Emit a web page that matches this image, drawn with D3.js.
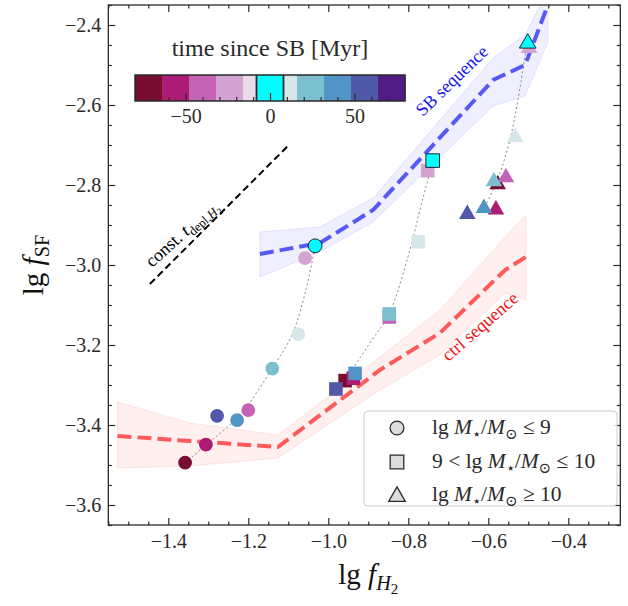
<!DOCTYPE html>
<html><head><meta charset="utf-8">
<script src="https://cdn.jsdelivr.net/npm/d3@7"></script>
<style>
body{margin:0;background:#fff;}
svg{font-family:"Liberation Serif","DejaVu Serif",serif;}
</style></head><body>
<svg id="chart" width="628" height="606"></svg>
<script>
// ---- axis ticks ----
const xTicks = [-1.4, -1.2, -1.0, -0.8, -0.6, -0.4];
const yTicks = [-3.6, -3.4, -3.2, -3.0, -2.8, -2.6, -2.4];

// ---- colour bins: time since starburst [Myr] ----
const timeEdges = [-80, -64, -48, -32, -16, -8, 8, 16, 32, 48, 64, 80];
const timeColors = ['#770d30', '#ac1c74', '#c463b4', '#d3a3d1', '#e9dbea', '#00ffff',
                    '#d5e7e9', '#7cc0d0', '#5294c6', '#4f58a9', '#511c84'];
const cbarTicks = [-50, 0, 50];

// ---- SB sequence (median + scatter band) ----
const sbFH2  = [-1.171, -1.021, -0.888, -0.588, -0.508, -0.451];
const sbFSF  = [-2.9725, -2.945, -2.8625, -2.5375, -2.500, -2.350];
const sbLow  = [-3.030, -2.9675, -2.8925, -2.6025, -2.5775, -2.4425];
const sbHigh = [-2.9175, -2.905, -2.8325, -2.4825, -2.425, -2.3125];

// ---- control sequence ----
const ctrlFH2  = [-1.527, -1.346, -1.126, -0.871, -0.721, -0.558, -0.506];
const ctrlFSF  = [-3.4275, -3.440, -3.455, -3.2625, -3.170, -3.0125, -2.980];
const ctrlLow  = [-3.5075, -3.5025, -3.4825, -3.3125, -3.225, -3.070, -3.0875];
const ctrlHigh = [-3.3425, -3.395, -3.425, -3.230, -3.1125, -2.930, -2.875];

// ---- snapshots, binned by stellar mass ----
const snapTime = [-72, -56, -40, -24, 0, 12, 24, 40, 56];
const circleFH2 = [-1.358, -1.306, -1.200, -1.058, -1.033, -1.075, -1.140, -1.228, -1.278];
const circleFSF = [-3.494, -3.449, -3.363, -2.983, -2.952, -3.173, -3.259, -3.388, -3.377];
const squareFH2 = [-0.958, -0.9375, -0.8475, -0.7515, -0.739, -0.775, -0.8475, -0.933, -0.981];
const squareFSF = [-3.289, -3.283, -3.130, -2.764, -2.739, -2.942, -3.1225, -3.271, -3.310];
const triFH2 = [-0.5765, -0.581, -0.556, -0.498, -0.5015, -0.533, -0.586, -0.611, -0.6525];
const triFSF = [-2.795, -2.858, -2.7775, -2.454, -2.442, -2.677, -2.7875, -2.854, -2.869];

// ---- evolutionary tracks (dotted guides) ----
const circleTrackFH2 = [-1.358, -1.306, -1.221, -1.146, -1.091, -1.056, -1.033];
const circleTrackFSF = [-3.495, -3.450, -3.375, -3.2675, -3.175, -3.0625, -2.9525];
const squareTrackFH2 = [-0.946, -0.891, -0.848, -0.796, -0.771, -0.738];
const squareTrackFSF = [-3.270, -3.1875, -3.1225, -2.9625, -2.8625, -2.7375];
const triTrackFH2 = [-0.603, -0.571, -0.546, -0.526, -0.503];
const triTrackFSF = [-2.845, -2.770, -2.6875, -2.5875, -2.445];

// ---- constant depletion time reference line ----
const deplFH2 = [-1.446, -1.096];
const deplFSF = [-3.0475, -2.6975];

// ---- legend ----
const legendShapes = ['circle', 'square', 'triangle'];

// ===================================================================
const svg = d3.select('#chart');
const X0 = 108.3, X1 = 620.3, Y0 = 5, Y1 = 525;
const x = d3.scaleLinear().domain([-1.55, -0.27]).range([X0, X1]);
const y = d3.scaleLinear().domain([-3.65, -2.35]).range([Y1, Y0]);
const color = d3.scaleThreshold().domain(timeEdges.slice(1, -1)).range(timeColors);
const fmt = d3.format('.1f');
const INK = '#2a2a2a';

function rich(sel, parts, fs) {
  let cur = 0;
  parts.forEach(p => {
    const L = p.sub || 0;
    const target = L === 0 ? 0 : (L === 1 ? 0.22 * fs : 0.36 * fs);
    const ts = sel.append('tspan').text(p.s)
      .attr('dy', target - cur)
      .style('font-size', (L === 0 ? fs : L === 1 ? fs * 0.7 : fs * 0.52) + 'px');
    if (p.i) ts.style('font-style', 'italic');
    cur = target;
  });
}

svg.append('defs').append('clipPath').attr('id', 'plot')
  .append('rect').attr('x', X0).attr('y', Y0).attr('width', X1 - X0).attr('height', Y1 - Y0);
const plot = svg.append('g').attr('clip-path', 'url(#plot)');

// bands
function band(xs, lo, hi, col) {
  const area = d3.area().x((d, i) => x(xs[i])).y0((d, i) => y(lo[i])).y1((d, i) => y(hi[i]));
  plot.append('path').attr('d', area(xs)).attr('fill', col).attr('fill-opacity', 0.09)
    .attr('stroke', col).attr('stroke-opacity', 0.12).attr('stroke-width', 1);
}
band(sbFH2, sbLow, sbHigh, '#5050ff');
band(ctrlFH2, ctrlLow, ctrlHigh, '#ff5050');

function seqLine(xs, ys, col) {
  const line = d3.line().x((d, i) => x(xs[i])).y((d, i) => y(ys[i]));
  plot.append('path').attr('d', line(xs)).attr('fill', 'none').attr('stroke', col)
    .attr('stroke-width', 4).attr('stroke-dasharray', '14,6');
}
seqLine(sbFH2, sbFSF, '#5858f6');
seqLine(ctrlFH2, ctrlFSF, '#ff5a5a');

// depletion-time line
plot.append('path')
  .attr('d', d3.line().x((d, i) => x(deplFH2[i])).y((d, i) => y(deplFSF[i]))(deplFH2))
  .attr('stroke', '#000').attr('stroke-width', 2).attr('stroke-dasharray', '7,4').attr('fill', 'none');

// dotted tracks
function track(xs, ys) {
  const line = d3.line().x((d, i) => x(xs[i])).y((d, i) => y(ys[i])).curve(d3.curveCatmullRom);
  plot.append('path').attr('d', line(xs)).attr('fill', 'none').attr('stroke', '#888')
    .attr('stroke-width', 1).attr('stroke-dasharray', '2,2.5');
}
track(circleTrackFH2, circleTrackFSF);
track(squareTrackFH2, squareTrackFSF);
track(triTrackFH2, triTrackFSF);

// markers
const symType = { circle: d3.symbolCircle, square: d3.symbolSquare, triangle: d3.symbolTriangle };
const symSize = { circle: 150, square: 185, triangle: 120 };
function scatter(xs, ys, shape) {
  const idx = snapTime.map((t, i) => i).sort((a, b) => (snapTime[a] === 0) - (snapTime[b] === 0));
  idx.forEach(i => {
    const t = snapTime[i];
    const off = shape === 'triangle' ? 1.5 : 0;
    plot.append('path')
      .attr('d', d3.symbol(symType[shape], symSize[shape])())
      .attr('transform', `translate(${x(xs[i])},${y(ys[i]) + off})`)
      .attr('fill', color(t))
      .attr('stroke', t === 0 ? '#111' : 'none')
      .attr('stroke-width', 0.9);
  });
}
scatter(circleFH2, circleFSF, 'circle');
scatter(squareFH2, squareFSF, 'square');
scatter(triFH2, triFSF, 'triangle');

// annotations
svg.append('text').attr('transform', 'translate(456,85) rotate(-44)')
  .attr('text-anchor', 'middle').attr('fill', '#1010ee').style('font-size', '18px').text('SB sequence');
svg.append('text').attr('transform', 'translate(484,331) rotate(-41)')
  .attr('text-anchor', 'middle').attr('fill', '#f01010').style('font-size', '18px').text('ctrl sequence');
const dpT = svg.append('text').attr('transform', 'translate(152,268) rotate(-42)')
  .attr('text-anchor', 'start').attr('fill', '#000');
rich(dpT, [{ s: 'const. ' }, { s: 't', i: true }, { s: 'depl,', sub: 1 }, { s: 'H', i: true, sub: 1 }, { s: '2', sub: 2 }], 18);

// axes: inward ticks on all four sides
function minorVals(dom, step, majors) {
  const out = [];
  for (let v = Math.ceil(dom[0] / step) * step; v <= dom[1] + 1e-9; v += step) {
    const r = Math.round(v * 100) / 100;
    if (!majors.some(m => Math.abs(m - r) < 1e-6)) out.push(r);
  }
  return out;
}
const xMinor = minorVals(x.domain(), 0.05, xTicks);
const yMinor = minorVals(y.domain(), 0.05, yTicks);

function styleAxis(g) {
  g.select('.domain').remove();
  g.selectAll('.tick line').attr('stroke', INK).attr('stroke-width', 1.2);
  g.selectAll('.tick text').attr('fill', INK).style('font-size', '20px')
    .style('font-family', '"Liberation Serif","DejaVu Serif",serif');
}
const axes = svg.append('g');
axes.append('g').attr('transform', `translate(0,${Y1})`)
  .call(d3.axisBottom(x).tickValues(xTicks).tickSize(-7).tickPadding(9).tickFormat(fmt)).call(styleAxis);
axes.append('g').attr('transform', `translate(0,${Y1})`)
  .call(d3.axisBottom(x).tickValues(xMinor).tickSize(-3.5).tickFormat('')).call(styleAxis);
axes.append('g').attr('transform', `translate(0,${Y0})`)
  .call(d3.axisTop(x).tickValues(xTicks).tickSize(-7).tickFormat('')).call(styleAxis);
axes.append('g').attr('transform', `translate(0,${Y0})`)
  .call(d3.axisTop(x).tickValues(xMinor).tickSize(-3.5).tickFormat('')).call(styleAxis);
axes.append('g').attr('transform', `translate(${X0},0)`)
  .call(d3.axisLeft(y).tickValues(yTicks).tickSize(-7).tickPadding(7).tickFormat(fmt)).call(styleAxis);
axes.append('g').attr('transform', `translate(${X0},0)`)
  .call(d3.axisLeft(y).tickValues(yMinor).tickSize(-3.5).tickFormat('')).call(styleAxis);
axes.append('g').attr('transform', `translate(${X1},0)`)
  .call(d3.axisRight(y).tickValues(yTicks).tickSize(-7).tickFormat('')).call(styleAxis);
axes.append('g').attr('transform', `translate(${X1},0)`)
  .call(d3.axisRight(y).tickValues(yMinor).tickSize(-3.5).tickFormat('')).call(styleAxis);
svg.append('rect').attr('x', X0).attr('y', Y0).attr('width', X1 - X0).attr('height', Y1 - Y0)
  .attr('fill', 'none').attr('stroke', INK).attr('stroke-width', 1.3);

// axis titles
const xl = svg.append('text').attr('x', (X0 + X1) / 2 + 4).attr('y', 584).attr('text-anchor', 'middle').attr('fill', '#111');
rich(xl, [{ s: 'lg ' }, { s: 'f', i: true }, { s: 'H', i: true, sub: 1 }, { s: '2', sub: 2 }], 29);
const yl = svg.append('text').attr('transform', `translate(43,${(Y0 + Y1) / 2}) rotate(-90)`)
  .attr('text-anchor', 'middle').attr('fill', '#111');
rich(yl, [{ s: 'lg ' }, { s: 'f', i: true }, { s: 'SF', sub: 1 }], 29);

// colour bar
const cx = d3.scaleLinear().domain([-80, 80]).range([135, 405]);
const CB0 = 75, CB1 = 101;
const cb = svg.append('g');
cb.selectAll('rect.bin').data(timeColors).join('rect').attr('class', 'bin')
  .attr('x', (d, i) => cx(timeEdges[i])).attr('y', CB0)
  .attr('width', (d, i) => cx(timeEdges[i + 1]) - cx(timeEdges[i]) + 0.5).attr('height', CB1 - CB0)
  .attr('fill', d => d);
[-8, 8].forEach(v => cb.append('line').attr('x1', cx(v)).attr('x2', cx(v)).attr('y1', CB0).attr('y2', CB1)
  .attr('stroke', INK).attr('stroke-width', 1.8));
const cbMinor = d3.range(-70, 71, 10).filter(v => !cbarTicks.includes(v));
cb.append('g').attr('transform', `translate(0,${CB1})`)
  .call(d3.axisBottom(cx).tickValues(cbMinor).tickSize(-4).tickFormat('')).call(styleAxis);
cb.append('g').attr('transform', `translate(0,${CB1})`)
  .call(d3.axisBottom(cx).tickValues(cbarTicks).tickSize(-8).tickPadding(8).tickFormat(d3.format('d'))).call(styleAxis);
cb.append('rect').attr('x', cx(-80)).attr('y', CB0).attr('width', cx(80) - cx(-80)).attr('height', CB1 - CB0)
  .attr('fill', 'none').attr('stroke', INK).attr('stroke-width', 1.5);
svg.append('text').attr('x', 270).attr('y', 56).attr('text-anchor', 'middle').attr('fill', INK)
  .style('font-size', '24px').text('time since SB [Myr]');

// legend
const lg = svg.append('g');
lg.append('rect').attr('x', 364).attr('y', 411).attr('width', 253).attr('height', 95).attr('rx', 4)
  .attr('fill', '#fff').attr('fill-opacity', 0.85).attr('stroke', '#ccc').attr('stroke-width', 1);
const legendParts = [
  [{ s: 'lg ' }, { s: 'M', i: true }, { s: '⋆', sub: 1 }, { s: '/' }, { s: 'M', i: true }, { s: '⊙', sub: 1 }, { s: ' ≤ 9' }],
  [{ s: '9 < lg ' }, { s: 'M', i: true }, { s: '⋆', sub: 1 }, { s: '/' }, { s: 'M', i: true }, { s: '⊙', sub: 1 }, { s: ' ≤ 10' }],
  [{ s: 'lg ' }, { s: 'M', i: true }, { s: '⋆', sub: 1 }, { s: '/' }, { s: 'M', i: true }, { s: '⊙', sub: 1 }, { s: ' ≥ 10' }]
];
const rowY = [428, 462, 495];
legendShapes.forEach((sh, i) => {
  lg.append('path').attr('d', d3.symbol(symType[sh], symSize[sh])())
    .attr('transform', `translate(397,${rowY[i] + (sh === 'triangle' ? 1.5 : 0)})`)
    .attr('fill', '#dcdcdc').attr('stroke', INK).attr('stroke-width', 1.3);
  const t = lg.append('text').attr('x', 432).attr('y', rowY[i] + 6).attr('fill', INK);
  rich(t, legendParts[i], 21.5);
});
</script>
</body></html>
